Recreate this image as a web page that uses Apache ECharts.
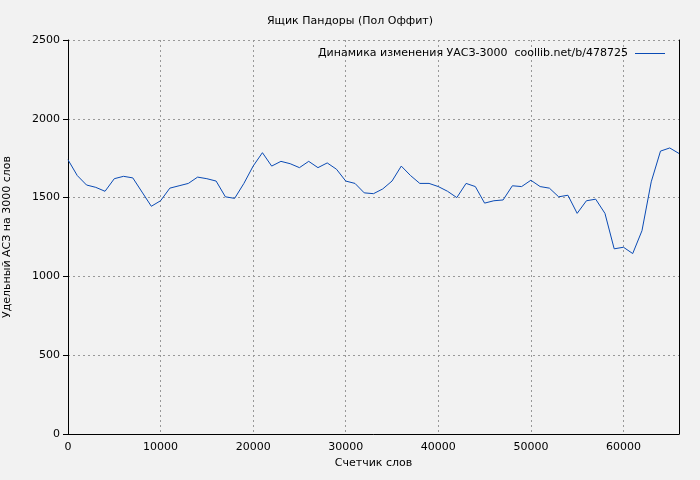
<!DOCTYPE html>
<html><head><meta charset="utf-8">
<script src="https://cdn.jsdelivr.net/npm/echarts@6/dist/echarts.min.js"></script>
<style>html,body{margin:0;padding:0;background:#f2f2f2}#c{width:700px;height:480px}</style>
</head><body><div id="c"></div>
<script>
const words = [0,1000,2000,3000,4000,5000,6000,7000,8000,9000,10000,11000,12000,13000,14000,15000,16000,17000,18000,19000,20000,21000,22000,23000,24000,25000,26000,27000,28000,29000,30000,31000,32000,33000,34000,35000,36000,37000,38000,39000,40000,41000,42000,43000,44000,45000,46000,47000,48000,49000,50000,51000,52000,53000,54000,55000,56000,57000,58000,59000,60000,61000,62000,63000,64000,65000,66000];
const values = [1740,1640,1580,1565,1540,1620,1635,1625,1535,1445,1480,1560,1575,1590,1630,1620,1605,1505,1495,1590,1700,1785,1700,1730,1715,1690,1730,1690,1720,1680,1605,1590,1530,1525,1555,1605,1700,1640,1590,1590,1570,1540,1500,1590,1570,1465,1480,1485,1575,1570,1610,1570,1560,1505,1515,1400,1480,1490,1400,1175,1185,1145,1290,1600,1795,1815,1780];
const seriesName = 'Динамика изменения УАСЗ-3000  coollib.net/b/478725';
const chart = echarts.init(document.getElementById('c'));
const f = 'DejaVu Sans';
chart.setOption({
  backgroundColor:'#f2f2f2',
  animation:false,
  title:{text:'Ящик Пандоры (Пол Оффит)',left:'center',top:11,textStyle:{fontFamily:f,fontSize:11,fontWeight:'normal',color:'#000'}},
  legend:{right:30,top:43,icon:'path://M0,0L30,0L30,1L0,1Z',itemWidth:34,itemHeight:1,align:'right',textStyle:{fontFamily:f,fontSize:11,color:'#000'}},
  grid:{left:68,right:21,top:40,bottom:46,outerBoundsMode:'none',containLabel:false},
  xAxis:{type:'value',min:0,max:66000,interval:10000,name:'Счетчик слов',nameLocation:'middle',nameGap:22,
    nameTextStyle:{fontFamily:f,fontSize:11,color:'#000'},
    axisLine:{lineStyle:{color:'#000'}},axisTick:{show:false},
    axisLabel:{fontFamily:f,fontSize:11,color:'#000',showMaxLabel:false,formatter:v=>String(v)},
    splitLine:{lineStyle:{color:'#999',type:[2,3]}}},
  yAxis:[{type:'value',min:0,max:2500,interval:500,name:'Удельный АСЗ на 3000 слов',nameLocation:'middle',nameGap:55,
    nameTextStyle:{fontFamily:f,fontSize:11,color:'#000'},
    axisLine:{show:true,lineStyle:{color:'#000'}},axisTick:{show:true,length:5,lineStyle:{color:'#000'}},
    axisLabel:{fontFamily:f,fontSize:11,color:'#000',formatter:v=>String(v)},
    splitLine:{lineStyle:{color:'#999',type:[2,3]}}},
    {type:'value',position:'right',min:0,max:2500,interval:500,axisLine:{show:true,lineStyle:{color:'#000'}},
    axisTick:{show:false},axisLabel:{show:false},splitLine:{show:false}}],
  series:[{name:seriesName,type:'line',data:words.map((w,i)=>[w,values[i]]),showSymbol:false,
    lineStyle:{color:'#0a4bb5',width:1},itemStyle:{color:'#0a4bb5'}}]
});
</script></body></html>
